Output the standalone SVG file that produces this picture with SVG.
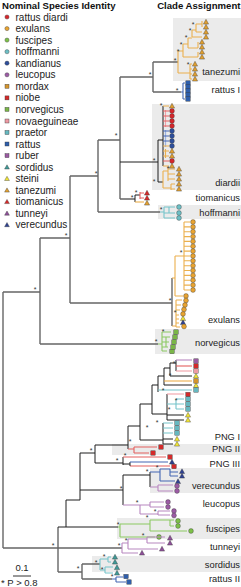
<svg xmlns="http://www.w3.org/2000/svg" width="241" height="587" viewBox="0 0 241 587">
<style>
.k{fill:none;stroke:#666;stroke-width:1.4}
.b{fill:none;stroke:#1e1e1e;stroke-width:1}
.o{fill:none;stroke:#ebb04e;stroke-width:1.1}
.bl{fill:none;stroke:#4467b3;stroke-width:1.1}
.lb{fill:none;stroke:#9db3e0;stroke-width:1.3}
.tl{fill:none;stroke:#74c4ca;stroke-width:1.1}
.gr{fill:none;stroke:#8cc963;stroke-width:1.1}
.rd{fill:none;stroke:#e4605e;stroke-width:1.1}
.pk{fill:none;stroke:#f0a0a8;stroke-width:1.1}
.pu{fill:none;stroke:#b887c0;stroke-width:1.1}
.st{font-family:"Liberation Sans",Arial,sans-serif;font-size:7px;fill:#333;text-anchor:middle}
.lg{font-family:"Liberation Sans",Arial,sans-serif;font-size:10px;fill:#222}
.cl{font-family:"Liberation Sans",Arial,sans-serif;font-size:9.3px;fill:#222;text-anchor:end}
.hd{font-family:"Liberation Sans",Arial,sans-serif;font-size:9.6px;font-weight:bold;fill:#111}
.bx{fill:#ebebeb}
use{stroke:#3a3a3a;stroke-width:0.4}
.s0{fill:#d7262b}.s1{fill:#e9a431}.s2{fill:#7dc148}.s3{fill:#6dc0c6}.s4{fill:#2d4f9d}.s5{fill:#9c5ba5}
.s6{fill:#d5952d}.s7{fill:#d42a2a}.s8{fill:#7ab648}.s9{fill:#ee9aa3}.s10{fill:#66b8c0}.s11{fill:#2f5eab}
.s12{fill:#9a5aa2}.s13{fill:#3e9a98}.s14{fill:#f2e537}.s15{fill:#e2a030}.s16{fill:#d82828}.s17{fill:#8e4f99}.s18{fill:#2e4191}
</style>
<defs>
<circle id="c" r="2.4"/>
<rect id="s" x="-2.2" y="-2.2" width="4.4" height="4.4"/>
<path id="t" d="M0,-2.7 L2.6,2.1 L-2.6,2.1 Z"/>
<circle id="lc" r="2.1"/>
<rect id="ls" x="-2" y="-2" width="4" height="4"/>
<path id="lt" d="M0,-2.4 L2.4,1.8 L-2.4,1.8 Z"/>
</defs>
<rect width="241" height="587" fill="#fff"/>
<g id="bands">
<rect class="bx" x="173" y="18" width="68" height="63"/>
<rect class="bx" x="152" y="104" width="89" height="86"/>
<rect class="bx" x="158" y="205" width="83" height="14"/>
<rect class="bx" x="155" y="329" width="86" height="25"/>
<rect class="bx" x="112" y="444" width="129" height="11"/>
<rect class="bx" x="150" y="468" width="91" height="25"/>
<rect class="bx" x="117" y="518" width="124" height="21"/>
<rect class="bx" x="92" y="556" width="149" height="16"/>
</g>
<g id="headers">
<text class="hd" x="2" y="9">Nominal Species Identity</text>
<text class="hd" x="240.5" y="9" text-anchor="end">Clade Assignment</text>
</g>
<g id="legend">
<use href="#lc" x="7" y="17" class="s0"/><text class="lg" x="15.5" y="20.5">rattus diardi</text>
<use href="#lc" x="7" y="28.6" class="s1"/><text class="lg" x="15.5" y="32.1">exulans</text>
<use href="#lc" x="7" y="40.1" class="s2"/><text class="lg" x="15.5" y="43.6">fuscipes</text>
<use href="#lc" x="7" y="51.7" class="s3"/><text class="lg" x="15.5" y="55.2">hoffmanni</text>
<use href="#lc" x="7" y="63.2" class="s4"/><text class="lg" x="15.5" y="66.7">kandianus</text>
<use href="#lc" x="7" y="74.8" class="s5"/><text class="lg" x="15.5" y="78.3">leucopus</text>
<use href="#ls" x="7" y="86.3" class="s6"/><text class="lg" x="15.5" y="89.8">mordax</text>
<use href="#ls" x="7" y="97.9" class="s7"/><text class="lg" x="15.5" y="101.4">niobe</text>
<use href="#ls" x="7" y="109.4" class="s8"/><text class="lg" x="15.5" y="112.9">norvegicus</text>
<use href="#ls" x="7" y="121" class="s9"/><text class="lg" x="15.5" y="124.5">novaeguineae</text>
<use href="#ls" x="7" y="132.5" class="s10"/><text class="lg" x="15.5" y="136">praetor</text>
<use href="#ls" x="7" y="144" class="s11"/><text class="lg" x="15.5" y="147.5">rattus</text>
<use href="#ls" x="7" y="155.6" class="s12"/><text class="lg" x="15.5" y="159.1">ruber</text>
<use href="#lt" x="7" y="167.2" class="s13"/><text class="lg" x="15.5" y="170.7">sordidus</text>
<use href="#lt" x="7" y="178.7" class="s14"/><text class="lg" x="15.5" y="182.2">steini</text>
<use href="#lt" x="7" y="190.3" class="s15"/><text class="lg" x="15.5" y="193.8">tanezumi</text>
<use href="#lt" x="7" y="201.8" class="s16"/><text class="lg" x="15.5" y="205.3">tiomanicus</text>
<use href="#lt" x="7" y="213.4" class="s17"/><text class="lg" x="15.5" y="216.9">tunneyi</text>
<use href="#lt" x="7" y="224.9" class="s18"/><text class="lg" x="15.5" y="228.4">verecundus</text>
</g>
<g id="connectors">
<path class="k" d="M3,292V548M3,292H40M40,238V344M40,238H70M70,176V303M70,176H98M98,140V212M98,140H120M120,77V199M120,77H153M153,62V92M153,62H178M153,92H181M120,199H135M98,212H160M70,303H172M172,278V326M40,344H158M3,548H122M58,527V572M58,572H82M82,564V579M82,564H100M82,579H112"/>
<path class="b" d="M120,162H158M158,140V182M158,140H163M163,106V166M158,182H163M135,195V202M135,195H140"/>
<path class="b" d="M58,527H118M66,500V527M66,500H80M80,453V500M80,490H123M80,453H95M95,445V463M95,445H128M95,463H123M123,457V465M123,464H130M128,426V449M128,426H140M140,404V440M140,440H163M163,423V444M163,439H173M163,444H173M140,404H152M152,385V414M152,414H167M167,394V420M167,415H184M167,420H184M152,385H158M158,376V392M158,376H164M164,368V385M164,368H170M170,363V376M170,363H176M176,360V371M123,475V505M123,475H150M150,472V487"/>
</g>
<g id="clade-tanezumi">
<path class="o" d="M178,51V73M178,73H190M190,64V79M190,64H192M190,69H192M190,74H192M190,79H192M178,51H183M183,44V57M183,57H198M198,52V57M183,44H188M188,38V48M188,48H198M198,42V48M188,38H192M192,30V37M192,37H202M192,30H196M196,24V32M196,32H202M196,24H202M202,21V27"/>
<use href="#t" x="206" y="22" class="s15"/><use href="#t" x="206" y="27" class="s15"/><use href="#t" x="206" y="32" class="s15"/><use href="#t" x="206" y="37" class="s15"/>
<use href="#t" x="202" y="42" class="s15"/><use href="#t" x="202" y="47" class="s15"/><use href="#t" x="202" y="52" class="s15"/><use href="#t" x="202" y="57" class="s15"/>
<use href="#t" x="195" y="64" class="s15"/><use href="#t" x="195" y="69" class="s15"/><use href="#t" x="195" y="74" class="s15"/><use href="#t" x="195" y="79" class="s15"/>
<text class="cl" x="240" y="75.3">tanezumi</text>
</g>
<g id="clade-rattus-I">
<path class="bl" d="M181,92H183M183,83V99M183,83H185M183,99H185"/>
<use href="#s" x="188" y="83" class="s11"/><use href="#s" x="188" y="87" class="s11"/><use href="#s" x="188" y="91" class="s11"/><use href="#s" x="188" y="95" class="s11"/><use href="#s" x="188" y="99" class="s11"/>
<text class="cl" x="240" y="93.3">rattus I</text>
</g>
<g id="clade-diardii">
<path class="pk" d="M165.5,110V127"/>
<path class="lb" d="M165.5,130V147"/>
<path class="o" d="M165.5,149V158"/>
<path class="o" d="M163,106H169M163,146H169M163,151H169M163,156H169M163,166H169"/>
<path class="rd" d="M163,111H169M163,116H169M163,121H169M163,126H169M163,161H169"/>
<path class="bl" d="M163,131H169M163,136H169M163,141H169"/>
<path class="o" d="M163,171V188M163,171H168M168,167V181M168,169H175M168,174H175M168,179H175M163,188H171M171,184V190M171,184H175M171,189H175"/>
<use href="#t" x="172" y="106" class="s15"/><use href="#c" x="172" y="111" class="s0"/><use href="#c" x="172" y="116" class="s0"/><use href="#c" x="172" y="121" class="s0"/><use href="#c" x="172" y="126" class="s0"/>
<use href="#c" x="172" y="131" class="s4"/><use href="#c" x="172" y="136" class="s4"/><use href="#c" x="172" y="141" class="s4"/><use href="#c" x="172" y="146" class="s4"/>
<use href="#t" x="172" y="151" class="s15"/><use href="#t" x="172" y="156" class="s15"/><use href="#c" x="172" y="161" class="s0"/><use href="#t" x="172" y="166" class="s15"/>
<use href="#t" x="179" y="169" class="s15"/><use href="#t" x="179" y="174" class="s15"/><use href="#t" x="179" y="179" class="s15"/><use href="#t" x="179" y="184" class="s15"/><use href="#t" x="179" y="189" class="s15"/>
<text class="cl" x="240" y="186.3">diardii</text>
</g>
<g id="clade-tiomanicus">
<path class="rd" d="M140,192V199M140,193H144M140,198H144"/>
<path class="o" d="M135,202H144"/>
<use href="#t" x="147" y="193" class="s16"/><use href="#t" x="147" y="198" class="s16"/><use href="#t" x="147" y="203" class="s15"/>
<text class="cl" x="240" y="201.3">tiomanicus</text>
</g>
<g id="clade-hoffmanni">
<path class="tl" d="M160,212H164M164,207V218M164,207H175M164,213H175M164,218H175M169,207V213"/>
<use href="#c" x="179" y="207" class="s3"/><use href="#c" x="179" y="213" class="s3"/><use href="#c" x="179" y="218" class="s3"/>
<text class="cl" x="240" y="216.3">hoffmanni</text>
</g>
<g id="clade-exulans">
<path class="o" d="M172,278H175M175,256V296M175,256H184M184,222V290M175,296H183M172,326H176M176,300V327M176,300H182M176,305H181M176,310H180M176,315H179M176,319H179M176,323H179M176,327H180"/>
<path class="o" d="M184,222H190M184,226.9H190M184,231.7H190M184,236.6H190M184,241.4H190M184,246.3H190M184,251.1H190M184,256H190M184,260.8H190M184,265.7H190M184,270.5H190M184,275.4H190M184,280.2H190M184,285.1H190M184,290H190"/>
<use href="#c" x="193" y="222" class="s1"/><use href="#c" x="193" y="226.9" class="s1"/><use href="#c" x="193" y="231.7" class="s1"/><use href="#c" x="193" y="236.6" class="s1"/><use href="#c" x="193" y="241.4" class="s1"/>
<use href="#c" x="193" y="246.3" class="s1"/><use href="#c" x="193" y="251.1" class="s1"/><use href="#c" x="193" y="256" class="s1"/><use href="#c" x="193" y="260.8" class="s1"/><use href="#c" x="193" y="265.7" class="s1"/>
<use href="#c" x="193" y="270.5" class="s1"/><use href="#c" x="193" y="275.4" class="s1"/><use href="#c" x="193" y="280.2" class="s1"/><use href="#c" x="193" y="285.1" class="s1"/><use href="#c" x="193" y="290" class="s1"/>
<use href="#c" x="186" y="296" class="s1"/>
<use href="#c" x="186" y="300.5" class="s1"/><use href="#c" x="185" y="305" class="s1"/><use href="#c" x="184" y="309.5" class="s1"/><use href="#c" x="183" y="314" class="s1"/>
<use href="#t" x="183" y="318.5" class="s14"/><use href="#t" x="183" y="322.5" class="s18"/><use href="#c" x="184" y="326.5" class="s1"/>
<text class="cl" x="240" y="323.3">exulans</text>
</g>
<g id="clade-norvegicus">
<path class="gr" d="M158,344H162M162,332V351M162,332H171M162,337H170M162,342H169M162,347H168M162,351H167M166,337V347"/>
<use href="#s" x="176" y="332" class="s8"/><use href="#s" x="175" y="337" class="s8"/><use href="#s" x="174" y="342" class="s8"/><use href="#s" x="173" y="347" class="s8"/><use href="#s" x="172" y="351.5" class="s8"/>
<text class="cl" x="240" y="346.3">norvegicus</text>
</g>
<g id="clade-PNG-I">
<path class="pu" d="M176,360H192"/>
<path class="rd" d="M176,366H192"/>
<path class="pk" d="M176,371H192"/>
<path class="b" d="M170,376H192M164,385H192"/>
<path class="o" d="M164,381H192"/>
<path class="tl" d="M158,390H192"/>
<path class="pk" d="M167,394H184"/>
<path class="tl" d="M167,404H176M176,399V409M176,399H184M176,404H184M176,409H184M163,423H173M163,428H173M163,433H173"/>
<use href="#s" x="196" y="361" class="s12"/><use href="#s" x="196" y="366" class="s7"/><use href="#s" x="196" y="371" class="s9"/><use href="#t" x="196" y="376" class="s14"/>
<use href="#s" x="196" y="381" class="s6"/><use href="#t" x="196" y="385.5" class="s14"/><use href="#s" x="196" y="390" class="s10"/>
<use href="#s" x="188" y="394.5" class="s7"/><use href="#s" x="188" y="399" class="s10"/><use href="#s" x="188" y="404" class="s10"/><use href="#s" x="188" y="409" class="s10"/>
<use href="#t" x="188" y="415" class="s14"/><use href="#t" x="188" y="420" class="s14"/>
<use href="#s" x="177" y="423" class="s10"/><use href="#s" x="177" y="428" class="s10"/><use href="#s" x="177" y="433" class="s10"/><use href="#t" x="177" y="439" class="s14"/><use href="#t" x="177" y="444" class="s14"/>
<text class="cl" x="240" y="440.3">PNG I</text>
</g>
<g id="clade-PNG-II">
<path class="rd" d="M128,449H134M134,447V453M134,447H157M134,453H149"/>
<use href="#s" x="161" y="447" class="s7"/><use href="#s" x="153" y="453" class="s7"/>
<text class="cl" x="240" y="452.3">PNG II</text>
</g>
<g id="clade-PNG-III">
<path class="rd" d="M123,457H166M130,466H170"/>
<path class="b" d="M130,462V466"/>
<path class="bl" d="M130,462H168"/>
<use href="#s" x="170" y="457" class="s7"/><use href="#t" x="172" y="462" class="s18"/><use href="#s" x="174" y="466.5" class="s7"/>
<text class="cl" x="240" y="467.3">PNG III</text>
</g>
<g id="clade-verecundus">
<path class="bl" d="M150,472H160M160,469V481M160,469H170M170,469V476M170,472H178M170,476H178M160,481H175"/>
<path class="pu" d="M150,487H158M158,485V491M158,485H173M158,491H173"/>
<use href="#t" x="182" y="471.5" class="s18"/><use href="#t" x="182" y="476" class="s18"/><use href="#t" x="178" y="481.5" class="s18"/>
<use href="#c" x="177" y="486" class="s5"/><use href="#c" x="177" y="491" class="s5"/>
<text class="cl" x="240" y="489.3">verecundus</text>
</g>
<g id="clade-leucopus">
<path class="pu" d="M123,505H140M140,505V514M140,505H150M150,502V507M150,502H164M150,507H164M140,514H158M158,511V515M158,511H170M158,515H170"/>
<use href="#c" x="168" y="502" class="s5"/><use href="#c" x="168" y="507" class="s5"/><use href="#c" x="174" y="511" class="s5"/><use href="#c" x="174" y="515.5" class="s5"/>
<text class="cl" x="240" y="507.3">leucopus</text>
</g>
<g id="clade-fuscipes">
<path class="gr" d="M118,527H120M120,524V537M120,524H150M150,520V531M150,520H170M170,520V526M170,520H174M170,526H174M150,531H187M120,537H155"/>
<use href="#c" x="178" y="521" class="s2"/><use href="#c" x="178" y="526" class="s2"/><use href="#c" x="191" y="531" class="s2"/><use href="#c" x="159" y="537" class="s2"/>
<text class="cl" x="240" y="532.3">fuscipes</text>
</g>
<g id="clade-tunneyi">
<path class="pu" d="M122,543V553M122,553H138M122,543H128M128,539V549M128,549H158M128,539H147M147,537V543M147,537H165M147,543H165"/>
<use href="#t" x="170" y="538" class="s17"/><use href="#t" x="170" y="543" class="s17"/><use href="#t" x="162" y="549" class="s17"/><use href="#t" x="142" y="553" class="s17"/>
<text class="cl" x="240" y="550.3">tunneyi</text>
</g>
<g id="clade-sordidus">
<path class="tl" d="M100,559V570M100,559H108M108,557V562M108,557H111M108,562H111M100,570H105M105,567V573M105,567H113M105,573H113"/>
<use href="#t" x="115" y="557" class="s13"/><use href="#t" x="115" y="562" class="s13"/><use href="#t" x="117" y="567.5" class="s13"/><use href="#t" x="117" y="573" class="s13"/>
<text class="cl" x="240" y="568.3">sordidus</text>
</g>
<g id="clade-rattus-II">
<path class="bl" d="M112,579H116M116,577V582M116,577H123M116,582H126"/>
<use href="#s" x="126" y="576.5" class="s11"/><use href="#s" x="129" y="582" class="s11"/>
<text class="cl" x="240" y="582.3">rattus II</text>
</g>
<g id="support">
<text class="st" x="35" y="292">*</text><text class="st" x="66" y="238">*</text><text class="st" x="96" y="176">*</text><text class="st" x="116" y="138">*</text>
<text class="st" x="150" y="77">*</text><text class="st" x="175" y="63">*</text><text class="st" x="193" y="27">*</text><text class="st" x="190" y="33">*</text><text class="st" x="186" y="40">*</text><text class="st" x="181" y="47">*</text><text class="st" x="178" y="54">*</text><text class="st" x="188" y="67">*</text>
<text class="st" x="177" y="93">*</text><text class="st" x="161" y="108">*</text><text class="st" x="154" y="163">*</text><text class="st" x="154" y="184">*</text><text class="st" x="168" y="171">*</text>
<text class="st" x="136" y="195">*</text><text class="st" x="132" y="200">*</text><text class="st" x="161" y="212">*</text>
<text class="st" x="181" y="255">*</text><text class="st" x="170" y="303">*</text><text class="st" x="175" y="315">*</text><text class="st" x="163" y="334">*</text><text class="st" x="156" y="344">*</text>
<text class="st" x="174" y="366">*</text><text class="st" x="170" y="378">*</text><text class="st" x="163" y="393">*</text><text class="st" x="176" y="403">*</text><text class="st" x="169" y="412">*</text>
<text class="st" x="157" y="425">*</text><text class="st" x="147" y="430">*</text><text class="st" x="130" y="444">*</text><text class="st" x="125" y="458">*</text><text class="st" x="117" y="463">*</text><text class="st" x="91" y="453">*</text>
<text class="st" x="121" y="491">*</text><text class="st" x="147" y="474">*</text><text class="st" x="157" y="470">*</text><text class="st" x="137" y="505">*</text><text class="st" x="155" y="514">*</text>
<text class="st" x="118" y="527">*</text><text class="st" x="147" y="520">*</text><text class="st" x="53" y="548">*</text>
<text class="st" x="119" y="548">*</text><text class="st" x="126" y="543">*</text><text class="st" x="143" y="538">*</text>
<text class="st" x="78" y="571">*</text><text class="st" x="96" y="565">*</text><text class="st" x="104" y="559">*</text><text class="st" x="102" y="572">*</text><text class="st" x="112" y="579">*</text>
</g>
<g id="scale">
<text class="lg" x="22" y="571" text-anchor="middle" style="font-size:9.5px">0.1</text>
<path d="M13,576H31" stroke="#333" stroke-width="1"/>
<text class="lg" x="1" y="586" style="font-size:9.5px">* P &gt; 0.8</text>
</g>
</svg>
